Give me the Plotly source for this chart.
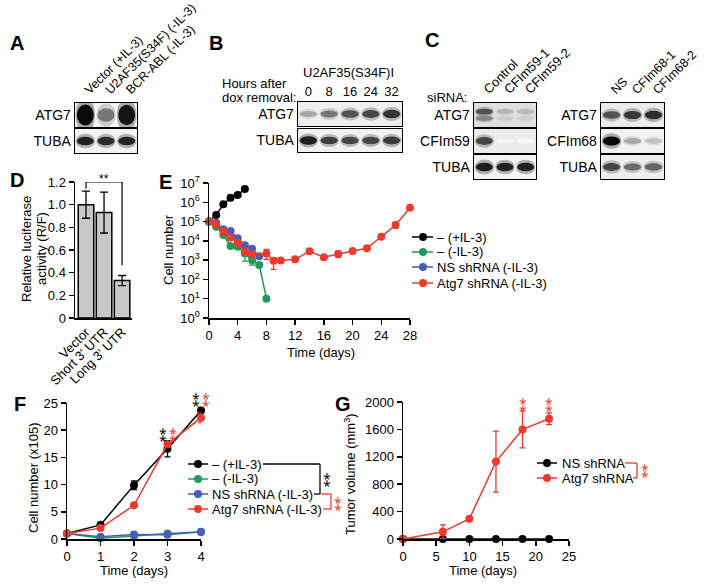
import plotly.graph_objects as go

W, H = 704, 586
FONT = "Liberation Sans, Arial, Helvetica, sans-serif"
BLACK = "#000000"
GREEN = "#1e9a5c"
BLUE = "#4a5db5"
RED = "#ec3a2c"


def fx(p):
    return p / W


def fy(p):
    return 1 - p / H


# ------------------------------------------------------------------ data
A_lanes = ["Vector (+IL-3)", "U2AF35(S34F) (-IL-3)", "BCR-ABL (-IL-3)"]
A_ATG7 = [1.0, 0.55, 0.95]
A_TUBA = [0.9, 0.85, 0.88]

B_hours = ["0", "8", "16", "24", "32"]
B_ATG7 = [0.35, 0.55, 0.7, 0.75, 0.82]
B_TUBA = [0.92, 0.78, 0.75, 0.75, 0.8]

C1_lanes = ["Control", "CFIm59-1", "CFIm59-2"]
C1_ATG7 = [0.7, 0.3, 0.28]
C1_CFIm59 = [0.75, 0.04, 0.03]
C1_TUBA = [0.92, 0.9, 0.9]

C2_lanes = ["NS", "CFIm68-1", "CFIm68-2"]
C2_ATG7 = [0.7, 0.8, 0.85]
C2_CFIm68 = [1.0, 0.35, 0.25]
C2_TUBA = [0.75, 0.6, 0.62]

D_constructs = ["Vector", "Short 3' UTR", "Long 3' UTR"]
D_activity = [1.0, 0.93, 0.33]
D_sd = [0.12, 0.18, 0.045]

E_names = ["– (+IL-3)", "– (-IL-3)", "NS shRNA (-IL-3)", "Atg7 shRNA (-IL-3)"]
E_days_black = [0, 1, 2, 3, 4, 5]
E_black = [1.0e5, 2.2e5, 7.8e5, 1.7e6, 2.4e6, 4.9e6]
E_days_green = [0, 1, 2, 3, 4, 5, 6, 7, 8]
E_green = [1.0e5, 5.4e4, 2.0e4, 5.4e3, 5.0e3, 2.2e3, 1.0e3, 5.6e2, 1.0e1]
E_green_up = [0, 0, 0, 0, 0, 2.8e3, 0, 0, 0]
E_green_dn = [0, 0, 0, 0, 0, 1.3e3, 4.5e2, 0, 0]
E_days_blue = [0, 1, 2, 3, 4, 5, 6, 7]
E_blue = [1.0e5, 8.7e4, 4.0e4, 3.2e4, 1.35e4, 6.0e3, 3.9e3, 1.6e3]
E_days_red = [0, 1, 2, 3, 4, 5, 6, 8, 9, 10, 12, 14, 16, 18, 20, 22, 24, 26, 28]
E_red = [1.0e5, 7.0e4, 3.0e4, 1.5e4, 8.0e3, 2.7e3, 2.1e3, 2.2e3, 9.3e2, 9.5e2,
         1.1e3, 2.9e3, 1.4e3, 2.1e3, 3.0e3, 4.1e3, 1.65e4, 6.6e4, 5.2e5]
E_red_up = [0, 0, 0, 0, 0, 6e2, 3e2, 1.4e3, 4.2e2, 0, 3e2, 4e2, 0, 9e2, 4e2, 5e2, 2e3, 2.5e4, 0]
E_red_dn = [0, 0, 0, 0, 0, 6e2, 7e2, 1.1e3, 6.0e2, 0, 2.5e2, 4e2, 0, 7e2, 4e2, 5e2, 2e3, 2.0e4, 0]
E_yticks = [1, 10, 100, 1e3, 1e4, 1e5, 1e6, 1e7]
E_ytext = ["10<sup>%d</sup>" % k for k in range(8)]

F_names = E_names
F_days = [0, 1, 2, 3, 4]
F_black = [1.0, 2.6, 9.9, 16.6, 23.6]
F_black_sd = [0.1, 0.2, 0.8, 1.5, 0.6]
F_green = [1.0, 0.15, 0.55, 1.0, 1.3]
F_green_sd = [0.1, 0.1, 0.1, 0.1, 0.1]
F_blue = [1.0, 0.4, 0.85, 0.8, 1.35]
F_blue_sd = [0.1, 0.1, 0.1, 0.1, 0.1]
F_red = [1.0, 2.0, 6.2, 17.4, 22.3]
F_red_sd = [0.1, 0.15, 0.2, 0.5, 0.9]

G_names = ["NS shRNA", "Atg7 shRNA"]
G_days = [0, 6, 10, 14, 18, 22]
G_ns = [0, 0, 0, 0, 0, 0]
G_atg7 = [0, 105, 295, 1130, 1600, 1755]
G_atg7_sd = [0, 100, 20, 445, 270, 85]

STARS_V = "\u2051"  # two asterisks stacked vertically

# ------------------------------------------------------------------ helpers
layout = {}
shapes = []
annotations = []
traces = []


def refs(i):
    return ("x" if i == 1 else "x%d" % i), ("y" if i == 1 else "y%d" % i)


def keys(i):
    return ("xaxis" if i == 1 else "xaxis%d" % i), ("yaxis" if i == 1 else "yaxis%d" % i)


def text(x, y, s, size=13, xanchor="center", yanchor="middle", angle=0, color=BLACK,
         xref="paper", yref="paper", yshift=0, xshift=0):
    annotations.append(dict(text=s, x=x, y=y, xref=xref, yref=yref, showarrow=False,
                            font=dict(size=size, color=color, family=FONT),
                            xanchor=xanchor, yanchor=yanchor, textangle=angle,
                            yshift=yshift, xshift=xshift))


def ptext(px, py, s, **kw):
    text(fx(px), fy(py), s, **kw)


def pline(x0, y0, x1, y1, color=BLACK, width=1.3):
    shapes.append(dict(type="line", xref="paper", yref="paper", x0=fx(x0), y0=fy(y0),
                       x1=fx(x1), y1=fy(y1), line=dict(color=color, width=width)))


def legend_entry(lx0, lx1, mx, y, color, label, tx):
    pline(lx0, y, lx1, y, color, 1.5)
    shapes.append(dict(type="circle", xref="paper", yref="paper", x0=fx(mx - 4), x1=fx(mx + 4),
                       y0=fy(y + 4), y1=fy(y - 4), fillcolor=color, line=dict(width=0)))
    ptext(tx, y, label, xanchor="left")


def plot_axis(**kw):
    base = dict(showline=True, linecolor=BLACK, linewidth=1.5, ticks="outside", ticklen=5,
                tickwidth=1.5, tickcolor=BLACK, showgrid=False, zeroline=False, fixedrange=True,
                automargin=False, tickfont=dict(size=13, color=BLACK, family=FONT))
    base.update(kw)
    return base


def blot_row(i, label, values, x0, x1, y0, y1, bg, thick=0.0, lanes=None, angle=-45,
             doublet=False, lane_size=13):
    xk, yk = keys(i)
    xr, yr = refs(i)
    n = len(values)
    xa = dict(domain=[fx(x0), fx(x1)], range=[0, n], anchor=yr, showline=True, mirror=True,
              linecolor=BLACK, linewidth=1.3, showgrid=False, zeroline=False, ticks="",
              fixedrange=True, automargin=False)
    if lanes:
        xa.update(side="top", tickmode="array", tickvals=[k + 0.5 for k in range(n)],
                  ticktext=lanes, tickangle=angle, showticklabels=True,
                  ticklabeloverflow="allow",
                  tickfont=dict(size=lane_size, color=BLACK, family=FONT))
    else:
        xa.update(showticklabels=False)
    ya = dict(domain=[fy(y1), fy(y0)], range=[0, 1], anchor=xr, showline=True, mirror=True,
              linecolor=BLACK, linewidth=1.3, showgrid=False, zeroline=False, ticks="",
              tickmode="array", tickvals=[0.5], ticktext=[label], fixedrange=True,
              automargin=False, tickfont=dict(size=14, color=BLACK, family=FONT))
    layout[xk] = xa
    layout[yk] = ya
    shapes.append(dict(type="rect", xref=xr + " domain", yref=yr + " domain", x0=0, x1=1, y0=0, y1=1,
                       fillcolor=bg, line=dict(width=0), layer="below"))
    centers = [(0.5, 1.0)] if not doublet else [(0.64, 1.0), (0.36, 0.7)]
    for k, v in enumerate(values):
        for yc, f in centers:
            vv = v * f
            if doublet:
                h = 0.08 + 0.06 * vv
            else:
                h = 0.09 + 0.1 * vv + thick * vv
            g = int(255 * (1 - vv))
            col = "rgb(%d,%d,%d)" % (g, g, g)
            shapes.append(dict(type="circle", xref=xr, yref=yr, x0=k + 0.03, x1=k + 0.97,
                               y0=yc - h * 1.7, y1=yc + h * 1.7, fillcolor=col, opacity=0.3,
                               line=dict(width=0)))
            shapes.append(dict(type="circle", xref=xr, yref=yr, x0=k + 0.09, x1=k + 0.91,
                               y0=yc - h, y1=yc + h, fillcolor=col, opacity=0.95,
                               line=dict(width=0)))


# ------------------------------------------------------------------ blots
blot_row(5, "ATG7", A_ATG7, 75, 137, 103, 127, "#f3f3f3", thick=0.25, lanes=A_lanes, lane_size=12.5)
blot_row(6, "TUBA", A_TUBA, 75, 137, 129, 153, "#f3f3f3")
blot_row(7, "ATG7", B_ATG7, 298, 402, 102, 126, "#efefef", lanes=B_hours, angle=0)
blot_row(8, "TUBA", B_TUBA, 298, 402, 129, 152, "#f1f1f1")
blot_row(9, "ATG7", C1_ATG7, 474, 536, 103, 127, "#e0e0e0", lanes=C1_lanes, doublet=True)
blot_row(10, "CFIm59", C1_CFIm59, 474, 536, 129, 153, "#ececec")
blot_row(11, "TUBA", C1_TUBA, 474, 536, 155, 179, "#f3f3f3")
blot_row(12, "ATG7", C2_ATG7, 601, 664, 103, 127, "#ebebeb", lanes=C2_lanes, lane_size=12.5)
blot_row(13, "CFIm68", C2_CFIm68, 601, 664, 129, 153, "#f2f2f2")
blot_row(14, "TUBA", C2_TUBA, 601, 664, 155, 179, "#efefef")

ptext(348, 73, "U2AF35(S34F)I")
ptext(220, 83, "Hours after", xanchor="left")
ptext(220, 97, "dox removal:", xanchor="left")
ptext(469, 97, "siRNA:", xanchor="right")

# ------------------------------------------------------------------ D
xk, yk = keys(1)
xr, yr = refs(1)
layout[xk] = plot_axis(domain=[fx(75), fx(132)], range=[-0.61, 2.55], anchor=yr, ticks="",
                       tickangle=-45, type="category", tickmode="array", tickvals=D_constructs,
                       ticktext=D_constructs)
layout[yk] = plot_axis(domain=[fy(318), fy(182)], range=[0, 1.2], anchor=xr, tickmode="array",
                       tickvals=[0, 0.2, 0.4, 0.6, 0.8, 1.0, 1.2],
                       ticktext=["0", "0.2", "0.4", "0.6", "0.8", "1.0", "1.2"])
traces.append(go.Bar(x=D_constructs, y=D_activity, xaxis=xr, yaxis=yr, width=0.86,
                     marker=dict(color="#c8c8c8", line=dict(color=BLACK, width=1.5)),
                     error_y=dict(type="data", array=D_sd, color=BLACK, thickness=1.3, width=4),
                     showlegend=False, hoverinfo="skip", cliponaxis=False))
top = 1.2
traces.append(go.Scatter(x=[D_constructs[0], D_constructs[0], D_constructs[2], D_constructs[2]],
                         y=[D_activity[0] + D_sd[0] + 0.02, top, top, D_activity[2] + D_sd[2] + 0.09],
                         xaxis=xr, yaxis=yr, mode="lines", line=dict(color=BLACK, width=1.2),
                         cliponaxis=False, showlegend=False, hoverinfo="skip"))
ptext(104, 179, "**", size=12)
ptext(26, 249, "Relative luciferase", angle=-90)
ptext(41, 249, "activity (R/F)", angle=-90)


# ------------------------------------------------------------------ series helper
def series(x, y, color, xr, yr, up=None, dn=None, size=8):
    tr = go.Scatter(x=x, y=y, mode="lines+markers", xaxis=xr, yaxis=yr,
                    line=dict(color=color, width=1.5), marker=dict(color=color, size=size),
                    cliponaxis=False, showlegend=False, hoverinfo="skip")
    if up is not None:
        tr.error_y = dict(type="data", symmetric=False, array=up, arrayminus=dn,
                          color=color, thickness=1.3, width=3)
    traces.append(tr)


# ------------------------------------------------------------------ E
xk, yk = keys(2)
xr, yr = refs(2)
layout[xk] = plot_axis(domain=[fx(209), fx(410)], range=[0, 28], anchor=yr, tickmode="array",
                       tickvals=list(range(0, 29, 4)))
layout[yk] = plot_axis(domain=[fy(318), fy(183)], type="log", range=[0, 7], anchor=xr,
                       tickmode="array", tickvals=E_yticks, ticktext=E_ytext)
series(E_days_black, E_black, BLACK, xr, yr)
series(E_days_green, E_green, GREEN, xr, yr, E_green_up, E_green_dn)
series(E_days_blue, E_blue, BLUE, xr, yr)
series(E_days_red, E_red, RED, xr, yr, E_red_up, E_red_dn)
ptext(168, 250, "Cell number", angle=-90)
ptext(321, 352, "Time (days)")
for name, col, yy in zip(E_names, [BLACK, GREEN, BLUE, RED], [237, 252, 267, 283]):
    legend_entry(412, 433, 423, yy, col, name, 435)

# ------------------------------------------------------------------ F
xk, yk = keys(3)
xr, yr = refs(3)
layout[xk] = plot_axis(domain=[fx(67), fx(201)], range=[0, 4], anchor=yr, dtick=1, tick0=0)
layout[yk] = plot_axis(domain=[fy(539), fy(403)], range=[0, 25], anchor=xr, dtick=5, tick0=0)
series(F_days, F_black, BLACK, xr, yr, F_black_sd, F_black_sd)
series(F_days, F_green, GREEN, xr, yr, F_green_sd, F_green_sd)
series(F_days, F_blue, BLUE, xr, yr, F_blue_sd, F_blue_sd)
series(F_days, F_red, RED, xr, yr, F_red_sd, F_red_sd)
ptext(33, 478, "Cell number (x105)", angle=-90)
ptext(134, 570, "Time (days)")
for d, yy in [(3, 434), (4, 399)]:
    text(d, fy(yy), STARS_V, xref=xr, yref="paper", size=14, xanchor="right", xshift=1)
    text(d, fy(yy), STARS_V, xref=xr, yref="paper", size=14, xanchor="left", color=RED, xshift=-1)
for name, col, yy in zip(F_names, [BLACK, GREEN, BLUE, RED], [464, 479, 494, 509]):
    legend_entry(188, 208, 198, yy, col, name, 210)
pline(263, 464, 320, 464)
pline(320, 464, 320, 494)
pline(314, 494, 320, 494)
ptext(327, 479, STARS_V, size=14)
pline(321, 494, 331, 494, RED)
pline(331, 494, 331, 509, RED)
pline(323, 509, 331, 509, RED)
ptext(338, 503, STARS_V, size=14, color=RED)

# ------------------------------------------------------------------ G
xk, yk = keys(4)
xr, yr = refs(4)
layout[xk] = plot_axis(domain=[fx(403), fx(569)], range=[0, 25], anchor=yr, dtick=5, tick0=0)
layout[yk] = plot_axis(domain=[fy(539), fy(402)], range=[0, 2000], anchor=xr, dtick=400, tick0=0)
series(G_days, G_ns, BLACK, xr, yr)
series(G_days, G_atg7, RED, xr, yr, G_atg7_sd, G_atg7_sd)
ptext(350, 474, "Tumor volume (mm<sup>3</sup>)", angle=-90)
ptext(483, 570, "Time (days)")
for d in (18, 22):
    text(d, fy(403.5), STARS_V, xref=xr, yref="paper", size=14, color=RED)
for name, col, yy in zip(G_names, [BLACK, RED], [463, 478]):
    legend_entry(537, 557, 547, yy, col, name, 560)
pline(625, 463, 637, 463, RED)
pline(637, 463, 637, 478, RED)
pline(633, 478, 637, 478, RED)
ptext(645, 470, STARS_V, size=14, color=RED)

# ------------------------------------------------------------------ panel letters
for lab, px, py in [("A", 8, 43), ("B", 207, 43), ("C", 423, 40), ("D", 8, 180),
                    ("E", 157, 182), ("F", 12, 404), ("G", 333, 404)]:
    ptext(px, py, "<b>%s</b>" % lab, size=20, xanchor="left")

fig = go.Figure(data=traces)
fig.update_layout(template="none", width=W, height=H, autosize=False,
                  margin=dict(l=0, r=0, t=0, b=0, pad=0),
                  paper_bgcolor="white", plot_bgcolor="white",
                  font=dict(family=FONT, size=13, color=BLACK),
                  showlegend=False, shapes=shapes, annotations=annotations, **layout)
fig.write_html("out.html",
               config={"displayModeBar": False, "staticPlot": True},
               post_script="document.body.style.margin='0';document.body.style.padding='0';"
                           "document.body.style.overflow='hidden';")
